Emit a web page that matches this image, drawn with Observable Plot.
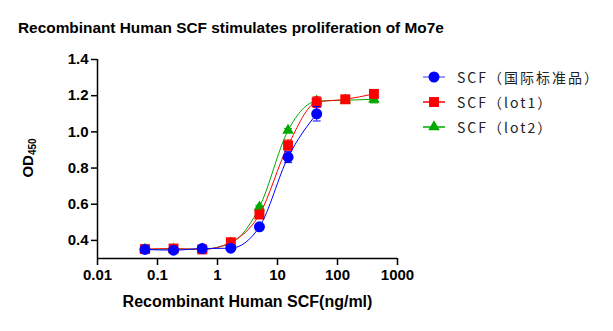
<!DOCTYPE html>
<html><head><meta charset="utf-8">
<script src="https://cdn.jsdelivr.net/npm/d3@7"></script>
<script src="https://cdn.jsdelivr.net/npm/@observablehq/plot@0.6"></script>
<style>
body{margin:0;background:#fff;}
#chart{position:relative;width:613px;height:331px;overflow:hidden;font-family:"Liberation Sans",Arial,sans-serif;background:#fff;}
#title{position:absolute;left:18px;top:19px;font-weight:bold;font-size:15.4px;color:#000;white-space:nowrap;}
#plot{position:absolute;left:0;top:48px;}
#legend{position:absolute;left:420px;top:64px;font-family:"Noto Sans CJK SC",sans-serif;font-size:14px;color:#222;letter-spacing:2px;}
.row{display:flex;align-items:center;height:25px;}
.row svg{display:block;margin-right:7px;}
</style></head><body>
<div id="chart"><div id="title"></div><div id="plot"></div><div id="legend"></div></div>
<script>
// ---- data ----
const titleText = "Recombinant Human SCF stimulates proliferation of Mo7e";
const xAxisLabel = "Recombinant Human SCF(ng/ml)";
const seriesNames = ["SCF（国际标准品）", "SCF（lot1）", "SCF（lot2）"];
const concentrations = [0.0617, 0.185, 0.556, 1.667, 5, 15, 45, 135, 405];
const standardOD = [0.350, 0.346, 0.355, 0.357, 0.475, 0.860, 1.100];
const standardSD = [0.005, 0.005, 0.005, 0.005, 0.010, 0.030, 0.040];
const lot1OD = [0.352, 0.355, 0.350, 0.390, 0.543, 0.925, 1.164, 1.180, 1.210];
const lot1SD = [0.005, 0.005, 0.010, 0.010, 0.010, 0.030, 0.030, 0.010, 0.015];
const lot2OD = [0.350, 0.352, 0.352, 0.385, 0.584, 1.008, 1.170, 1.175, 1.180];
const lot2SD = [0.005, 0.005, 0.005, 0.005, 0.010, 0.010, 0.010, 0.010, 0.020];
const xTicks = [0.01, 0.1, 1, 10, 100, 1000];
const xTickLabels = ["0.01", "0.1", "1", "10", "100", "1000"];
const yTicks = [0.4, 0.6, 0.8, 1.0, 1.2, 1.4];

// ---- styles ----
const colors = ["#0000ff", "#ff0000", "#00a800"];
const legendLineColors = ["#7b7bff", "#ff0000", "#00a800"];
const symbols = ["circle", "square", "triangle"];
const radii = [5.5, 5.6, 4.3];

function rows(od, sd, s) {
  return od.map((v, i) => ({conc: concentrations[i], od: v, sd: sd[i], series: s}));
}
const allSeries = [rows(standardOD, standardSD, 0), rows(lot1OD, lot1SD, 1), rows(lot2OD, lot2SD, 2)];

const capSymbol = {draw(ctx) { ctx.moveTo(-4, 0); ctx.lineTo(4, 0); }};

function seriesMarks(s) {
  const data = allSeries[s];
  const c = colors[s];
  return [
    Plot.line(data, {x: "conc", y: "od", stroke: c, strokeWidth: 1, curve: "monotone-x"}),
    Plot.ruleX(data, {x: "conc", y1: d => d.od - d.sd, y2: d => d.od + d.sd, stroke: c, strokeWidth: 1}),
    Plot.dot(data, {x: "conc", y: d => d.od - d.sd, symbol: capSymbol, stroke: c, strokeWidth: 1, r: 4}),
    Plot.dot(data, {x: "conc", y: d => d.od + d.sd, symbol: capSymbol, stroke: c, strokeWidth: 1, r: 4}),
    Plot.dot(data, {x: "conc", y: "od", symbol: symbols[s], fill: c, stroke: "none", r: radii[s]})
  ];
}

const plot = Plot.plot({
  width: 613, height: 283,
  marginLeft: 97, marginRight: 216, marginTop: 11, marginBottom: 73,
  style: {fontFamily: "Liberation Sans, Arial, sans-serif", fontSize: "15px", fontWeight: "bold", color: "#000", background: "transparent", overflow: "visible"},
  x: {type: "log", domain: [0.01, 1000]},
  y: {domain: [0.3, 1.4]},
  marks: [
    Plot.axisX(xTicks, {tickSize: 7, tickPadding: 4, strokeWidth: 1.5, tickFormat: d => xTickLabels[xTicks.indexOf(d)], label: null}),
    Plot.axisY(yTicks, {tickSize: 6, tickPadding: 3, strokeWidth: 1.5, tickFormat: d3.format(".1f"), label: null}),
    Plot.ruleY([0.3], {strokeWidth: 1.5}),
    Plot.ruleX([0.01], {strokeWidth: 1.5}),
    ...seriesMarks(2),
    ...seriesMarks(1),
    ...seriesMarks(0),
    Plot.text([xAxisLabel], {text: d => d, frameAnchor: "bottom", dy: 48, fontSize: 16, fontWeight: "bold", fill: "#000"})
  ]
});

// y-axis label with subscript
const svg = d3.select(plot);
const yl = svg.append("text")
  .attr("transform", "translate(33,110) rotate(-90)")
  .attr("text-anchor", "middle")
  .attr("fill", "#000")
  .style("font-weight", "bold").style("font-size", "15px");
yl.append("tspan").text("OD");
yl.append("tspan").attr("dy", 3).style("font-size", "10px").text("450");

document.getElementById("plot").appendChild(plot);
document.getElementById("title").textContent = titleText;

// legend
const legend = d3.select("#legend");
seriesNames.forEach((name, s) => {
  const row = legend.append("div").attr("class", "row");
  const sw = row.append("svg").attr("width", 30).attr("height", 14);
  sw.append("line").attr("x1", 3).attr("x2", 25).attr("y1", 7).attr("y2", 7).attr("stroke", legendLineColors[s]).attr("stroke-width", 1.5);
  sw.append("path").attr("transform", "translate(14,7)")
    .attr("d", d3.symbol(s === 0 ? d3.symbolCircle : s === 1 ? d3.symbolSquare : d3.symbolTriangle, Math.PI * radii[s] * radii[s])())
    .attr("fill", colors[s]);
  row.append("span").text(name);
});
</script></body></html>
